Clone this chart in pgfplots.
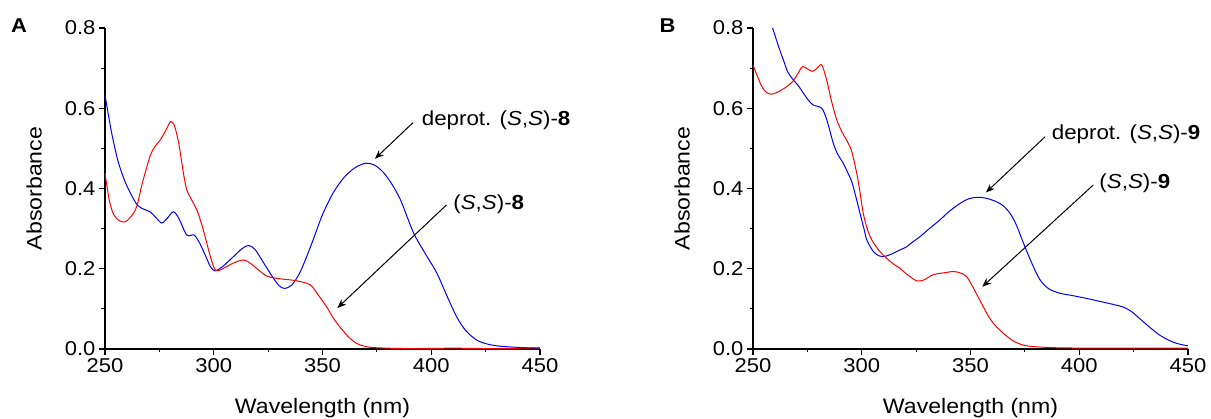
\documentclass[border=0pt]{standalone}
\usepackage{fontspec}
\setmainfont{Liberation Sans}[FakeStretch=1.1]
\usepackage{pgfplots}
\usepackage{pgfplotstable}
\pgfplotsset{compat=1.18}
\usetikzlibrary{arrows.meta}

\pgfplotstableread{
x y
250 0.633
253 0.54
256 0.468
259 0.42
262 0.385
265 0.358
268 0.348
270.7 0.342
273 0.33
276 0.314
278.5 0.325
281.4 0.342
284 0.325
287.6 0.284
291 0.284
293.7 0.262
296 0.235
298.5 0.205
300.6 0.195
304 0.205
309 0.23
313 0.25
316 0.258
319 0.248
323 0.214
327 0.18
330 0.158
332.5 0.151
336 0.16
340 0.195
345 0.262
350 0.335
355 0.39
360 0.428
365 0.452
370 0.463
374 0.458
378 0.44
382 0.41
386 0.37
391.8 0.29
397 0.24
402.5 0.19
407 0.135
411.7 0.08
416 0.045
421 0.022
426 0.012
431.6 0.007
440 0.004
450 0.002
}\blueA

\pgfplotstableread{
x y
250 0.438
252 0.37
254 0.335
256.5 0.32
259.2 0.317
262 0.33
264.6 0.355
267 0.41
270.7 0.48
273 0.505
275.3 0.52
278 0.545
280.2 0.567
282 0.555
284 0.51
286 0.44
287.6 0.397
290 0.37
292.2 0.347
294.5 0.31
296.8 0.264
299 0.22
301 0.195
304 0.2
309 0.214
313.6 0.222
317 0.213
321 0.195
324.3 0.182
328 0.177
332 0.174
338 0.17
344.3 0.16
348 0.135
351.9 0.105
355 0.077
358 0.055
362 0.03
365.7 0.014
370 0.006
375 0.003
390 0.001
410 0.002
430 0.001
450 0.003
}\redA

\pgfplotstableread{
x y
259 0.8
262 0.75
264 0.72
266 0.69
268.5 0.671
271 0.655
273.1 0.638
275.5 0.62
277.7 0.608
281.6 0.6
284 0.57
286.9 0.513
289 0.485
291.5 0.463
293.5 0.44
295.4 0.417
297.5 0.375
299.2 0.338
301 0.3
302.3 0.272
305.3 0.243
308 0.232
309.9 0.23
313 0.235
317.6 0.247
320.7 0.255
323 0.265
326.8 0.28
330 0.295
336 0.322
340 0.342
345.2 0.363
349 0.374
352.9 0.378
357 0.376
362 0.367
365 0.357
368.2 0.338
371 0.31
375 0.255
378.5 0.21
382 0.172
386 0.15
391.1 0.139
397 0.133
403.4 0.126
410 0.118
418.7 0.107
422 0.1
424.8 0.09
429 0.07
434 0.047
438 0.031
443.2 0.017
447 0.011
450 0.008
}\blueB

\pgfplotstableread{
x y
250 0.708
252 0.68
254 0.655
256 0.64
258.6 0.635
262 0.642
265.5 0.654
268.5 0.668
271 0.69
272.8 0.704
275 0.698
277.4 0.692
279.5 0.7
281.6 0.708
283.9 0.67
286 0.62
288.5 0.571
291 0.54
293.8 0.513
295.5 0.49
297.7 0.438
299.2 0.39
300.7 0.338
302.5 0.3
304.6 0.272
308 0.245
311.5 0.226
314.5 0.212
317.6 0.201
321 0.185
325.2 0.17
328.5 0.172
332.8 0.185
338 0.19
342.1 0.193
345 0.19
348.3 0.18
352 0.145
355.9 0.105
359 0.075
362 0.055
366 0.035
369.7 0.02
374 0.01
378.9 0.006
390 0.003
410 0.002
430 0.002
450 0.002
}\redB

\pgfplotsset{
  uvstyle/.style={
    scale only axis, width=435pt, height=321pt,
    xmin=250, xmax=450, ymin=0, ymax=0.8,
    axis lines=left, axis line style={-, line width=1.2pt},
    tick align=outside,
    xtick={250,300,350,400,450}, ytick={0,0.2,0.4,0.6,0.8},
    minor tick num=1,
    major tick length=6pt, minor tick length=3.5pt,
    every tick/.append style={line width=1.2pt, black},
    tick label style={font=\fontsize{20}{22}\selectfont},
    /pgf/number format/assume math mode=true,
    yticklabel style={/pgf/number format/.cd, fixed, fixed zerofill, precision=1},
    xlabel={Wavelength (nm)}, ylabel={Absorbance},
    every axis x label/.style={at={(axis description cs:0.5,-0.184)}, anchor=center, font=\fontsize{21}{24}\selectfont},
    every axis y label/.style={at={(axis description cs:-0.163,0.5)}, anchor=center, rotate=90, font=\fontsize{21}{24}\selectfont},
    clip=false,
  },
}
\tikzset{
  annot/.style={anchor=base west, inner sep=0pt, font=\fontsize{20.3}{22}\selectfont},
  arr/.style={-{Stealth[length=9pt,width=7pt]}, line width=1pt, black},
  panel/.style={font=\fontsize{20}{22}\selectfont\bfseries},
}

\begin{document}
\begin{tikzpicture}
\path[use as bounding box] (0,0) rectangle (1211pt,419pt);
\node[panel] at (19pt,393.5pt) {A};
\node[panel] at (667.5pt,393.5pt) {B};

\begin{axis}[uvstyle, at={(105pt,70pt)}, anchor=south west]
\addplot[blue, line width=1pt, smooth] table[x=x,y=y] {\blueA};
\addplot[red, line width=1pt, smooth] table[x=x,y=y] {\redA};
\draw[arr] (axis cs:391.6,0.564) -- (axis cs:374.1,0.474);
\node[annot] at (axis cs:395.6,0.556) {deprot. (\textit{S},\textit{S})-\textbf{8}};
\draw[arr] (axis cs:407,0.359) -- (axis cs:356.8,0.102);
\node[annot] at (axis cs:410.1,0.348) {(\textit{S},\textit{S})-\textbf{8}};
\end{axis}

\begin{axis}[uvstyle, at={(753pt,70pt)}, anchor=south west]
\addplot[blue, line width=1pt, smooth] table[x=x,y=y] {\blueB};
\addplot[red, line width=1pt, smooth] table[x=x,y=y] {\redB};
\draw[arr] (axis cs:384.3,0.529) -- (axis cs:357.1,0.39);
\node[annot] at (axis cs:387.3,0.521) {deprot. (\textit{S},\textit{S})-\textbf{9}};
\draw[arr] (axis cs:406.5,0.409) -- (axis cs:355.4,0.155);
\node[annot] at (axis cs:409.2,0.40) {(\textit{S},\textit{S})-\textbf{9}};
\end{axis}
\end{tikzpicture}
\end{document}
